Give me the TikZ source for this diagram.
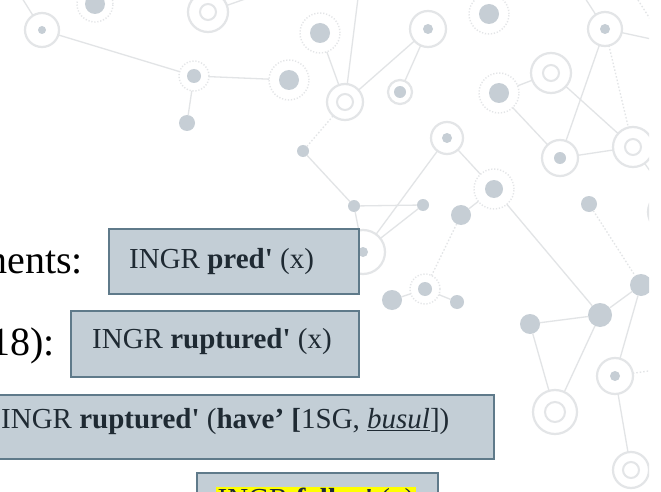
\documentclass[tikz,border=0pt]{standalone}
\usepackage{fontspec}
\setmainfont{Liberation Serif}[Ligatures=TeXOff]

\definecolor{linkc}{HTML}{E2E4E6}
\definecolor{ringc}{HTML}{E3E5E7}
\definecolor{dotc}{HTML}{C6CED5}
\definecolor{boxfill}{HTML}{C3CED6}
\definecolor{boxline}{HTML}{5F7A8A}
\definecolor{ink}{HTML}{1F2A33}
\definecolor{marker}{HTML}{FFFF00}

\tikzset{
  link/.style={draw=linkc, line width=1.3pt},
  dlink/.style={draw=linkc, line width=1.3pt, dash pattern=on 1.5pt off 2pt},
  ringnode/.style={circle, draw=ringc, line width=2.2pt, fill=white, inner sep=0pt, outer sep=0pt},
  dring/.style={circle, draw=ringc, line width=1.4pt, dash pattern=on 1.2pt off 1.8pt, fill=white, inner sep=0pt, outer sep=0pt},
  dotnode/.style={circle, fill=dotc, inner sep=0pt, outer sep=0pt},
  hole/.style={circle, draw=ringc, line width=2pt, inner sep=0pt, outer sep=0pt},
  box/.style={rectangle, fill=boxfill, draw=boxline, line width=2.4pt, inner sep=0pt},
  lbl/.style={anchor=base west, inner sep=0pt, text=ink, font=\fontsize{29}{34}\selectfont},
  lead/.style={anchor=base east, inner sep=0pt, text=black, font=\fontsize{40}{48}\selectfont},
}

% network helpers: name, centre, outer diameter, inner diameter
\newcommand\ringdot[4]{\node[ringnode, minimum size=#3pt] (#1) at (#2) {};
  \node[dotnode, minimum size=#4pt] (#1c) at (#2) {};}
\newcommand\dringdot[4]{\node[dring, minimum size=#3pt] (#1) at (#2) {};
  \node[dotnode, minimum size=#4pt] (#1c) at (#2) {};}
\newcommand\dblring[4]{\node[ringnode, minimum size=#3pt] (#1) at (#2) {};
  \node[hole, minimum size=#4pt] (#1c) at (#2) {};}
\newcommand\plaindot[3]{\node[dotnode, minimum size=#3pt] (#1) at (#2) {};}

\begin{document}
\begin{tikzpicture}[x=1pt, y=-1pt]
\useasboundingbox (0,0) rectangle (661,492);
\fill[white] (0,0) rectangle (661,492);

% ---- background network ----
\begin{scope}
\clip (0,0) rectangle (649,492);
\ringdot{a1}{42,30}{34}{8}
\dringdot{a2}{194,76}{30}{14}
\dringdot{a3}{289,80}{40}{20}
\plaindot{a4}{187,123}{16}
\dringdot{a5}{95,4}{36}{20}
\dblring{a6}{208,12}{40}{16}
\dringdot{a7}{320,33}{40}{20}
\dblring{a8}{345,102}{36}{16}
\plaindot{a9}{303,151}{12}
\ringdot{a10}{428,29}{36}{10}
\ringdot{a11}{400,92}{24}{12}
\dringdot{a12}{489,14}{40}{20}
\dringdot{a13}{499,93}{40}{20}
\dblring{a14}{551,73}{40}{16}
\ringdot{a15}{560,158}{36}{12}
\dblring{a16}{633,147}{40}{16}
\ringdot{a17}{605,29}{34}{10}
\ringdot{a18}{447,138}{32}{10}
\dringdot{a19}{494,189}{40}{18}
\plaindot{a20}{461,215}{20}
\plaindot{a21}{423,205}{12}
\plaindot{a22}{354,206}{12}
\ringdot{a23}{363,252}{44}{10}
\plaindot{a24}{589,204}{16}
\plaindot{a25}{641,285}{22}
\dringdot{a26}{425,289}{30}{14}
\plaindot{a27}{457,302}{14}
\plaindot{a28}{392,300}{20}
\plaindot{a29}{530,324}{20}
\plaindot{a30}{600,315}{24}
\dblring{a31}{555,412}{44}{20}
\ringdot{a32}{615,376}{36}{10}
\dblring{a33}{631,470}{36}{16}
\node[ringnode, minimum size=40pt] (a34) at (668,212) {};

\coordinate (e1) at (358,-2);
\coordinate (e2) at (665,42);
\coordinate (e3) at (22,-2);
\coordinate (e4) at (585,-2);
\coordinate (e5) at (248,-2);
\coordinate (e6) at (660,185);
\coordinate (e7) at (655,370);
\coordinate (e8) at (638,0);
\coordinate (e9) at (652,22);

\draw[link] (a1) -- (a2);
\draw[link] (a2) -- (a3);
\draw[link] (a2) -- (a4);
\draw[link] (a7) -- (a8);
\draw[link] (a8) -- (e1);
\draw[link] (a8) -- (a10);
\draw[link] (a10) -- (a11);
\draw[link] (a13) -- (a14);
\draw[link] (a13) -- (a15);
\draw[link] (a14) -- (a16);
\draw[link] (a17) -- (a15);
\draw[link] (a17) -- (e2);
\draw[link] (a15) -- (a16);
\draw[link] (a18) -- (a23);
\draw[link] (a18) -- (a19);
\draw[link] (a21) -- (a23);
\draw[link] (a22) -- (a23);
\draw[link] (a22) -- (a21);
\draw[link] (a9) -- (a22);
\draw[link] (a20) -- (a19);
\draw[link] (a19) -- (a30);
\draw[link] (a26) -- (a27);
\draw[link] (a26) -- (a28);
\draw[link] (a30) -- (a25);
\draw[link] (a29) -- (a30);
\draw[link] (a29) -- (a31);
\draw[link] (a30) -- (a31);
\draw[link] (a25) -- (a32);
\draw[link] (a32) -- (a33);
\draw[link] (a1) -- (e3);
\draw[link] (a17) -- (e4);
\draw[link] (a6) -- (e5);
\draw[link] (a16) -- (e6);
\draw[dlink] (a9) -- (a8);
\draw[dlink] (a17) -- (a16);
\draw[dlink] (a20) -- (a26);
\draw[dlink] (a24) -- (a25);
\draw[dlink] (a32) -- (e7);
\draw[dlink] (e8) -- (e9);
\end{scope}

% ---- lead-in text ----
\node[lead] (l1) at (83,273) {ments:};
\node[lead] (l2) at (55,355) {18):};

% ---- boxes ----
\node[box, minimum width=250pt, minimum height=65pt] (b1) at (234,261.5) {};
\node[box, minimum width=288pt, minimum height=66pt] (b2) at (215,344) {};
\node[box, minimum width=504pt, minimum height=64pt] (b3) at (242,427) {};
\node[box, minimum width=241pt, minimum height=70pt] (b4) at (317.5,508) {};

\node[lbl] (t1) at (129,268) {INGR \textbf{pred'} (x)};
\node[lbl] (t2) at (92,348) {INGR \textbf{ruptured'} (x)};
\node[lbl] (t3) at (1,428) {INGR \textbf{ruptured'} (\textbf{have’ [}1SG, \underline{\textit{busul}}])};
\node[lbl, fill=marker, inner xsep=1.5pt, inner ysep=1pt] (t4) at (216,508) {INGR \textbf{fallen'} (x)};
\end{tikzpicture}
\end{document}
